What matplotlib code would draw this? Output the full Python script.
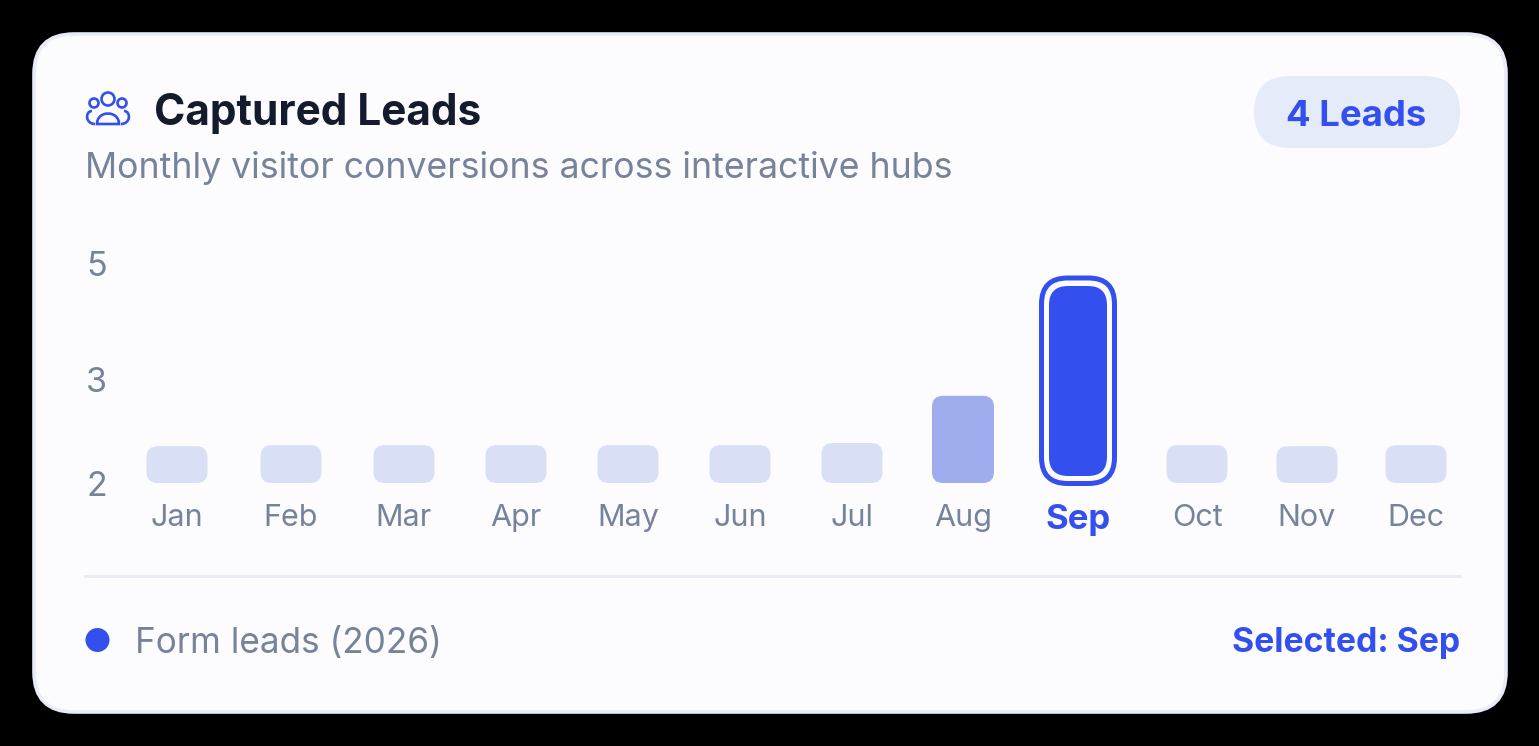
import matplotlib
matplotlib.use("Agg")
import matplotlib.pyplot as plt
import numpy as np
from matplotlib.patches import Circle, FancyBboxPatch, PathPatch
from matplotlib.path import Path

MONTHS = ["Jan", "Feb", "Mar", "Apr", "May", "Jun", "Jul", "Aug", "Sep", "Oct", "Nov", "Dec"]
LEADS = [2.36, 2.37, 2.37, 2.37, 2.37, 2.37, 2.39, 2.84, 4, 2.37, 2.36, 2.37]
Y_TICKS = [2, 3, 5]
SELECTED = "Sep"
PREVIOUS = "Aug"

# the month slots in the picture are not quite even, shift in px
NUDGE = [0, 1, 1, 0, -1, -2, -3, -5, -3, 3, 0, -4]

BLUE = "#3350ee"
LIGHT = "#d9e0f6"
MID = "#9fadee"
GRAY = "#76839b"
W, H = 1539, 746

plt.rcParams["font.family"] = ["Inter", "DejaVu Sans"]
fig = plt.figure(figsize=(W / 100, H / 100), dpi=100, facecolor="black")

# chrome layer, coordinates are reference pixels
bg = fig.add_axes([0, 0, 1, 1])
bg.set_xlim(0, W)
bg.set_ylim(H, 0)
bg.axis("off")


def rbox(x0, y0, x1, y1, r, **kw):
    p = FancyBboxPatch((x0, y0), x1 - x0, y1 - y0, boxstyle=f"round,pad=0,rounding_size={r}", **kw)
    bg.add_patch(p)
    return p


rbox(34, 34, 1506, 712, 40, fc="#fcfcfe", ec="#e8ecf8", lw=2.6)
rbox(1254, 76, 1460, 148, 36, fc="#e6ebfa", ec="none")
bg.plot([85, 1460], [576, 576], color="#e6ebf7", lw=2)

# people icon
icon = dict(fc="none", ec=BLUE, lw=1.9)
bg.add_patch(Circle((108, 99), 6.5, **icon))
bg.add_patch(Circle((94, 103), 4.5, **icon))
bg.add_patch(Circle((122, 103), 4.5, **icon))
body = Path([(97, 124), (97, 110), (119, 110), (119, 124), (97, 124)],
            [Path.MOVETO, Path.CURVE4, Path.CURVE4, Path.CURVE4, Path.CLOSEPOLY])
bg.add_patch(PathPatch(body, **icon))
left = Path([(95, 124), (85, 124), (85, 111), (92, 111)], [Path.MOVETO, Path.CURVE4, Path.CURVE4, Path.CURVE4])
right = Path([(121, 124), (131, 124), (131, 111), (124, 111)], [Path.MOVETO, Path.CURVE4, Path.CURVE4, Path.CURVE4])
bg.add_patch(PathPatch(left, **icon))
bg.add_patch(PathPatch(right, **icon))

bg.text(154, 113, "Captured Leads", fontsize=30.5, fontweight="bold", color="#141b2d", va="center")
bg.text(85, 168, "Monthly visitor conversions across interactive hubs", fontsize=25.7, color=GRAY, va="center")
bg.text(1356, 116, "4 Leads", fontsize=26.3, fontweight="bold", color=BLUE, va="center", ha="center")
bg.add_patch(Circle((97.5, 640), 12, fc=BLUE, ec="none"))
bg.text(135, 643, "Form leads (2026)", fontsize=25.3, color=GRAY, va="center")
bg.text(1460, 643, f"Selected: {SELECTED}", fontsize=24.3, fontweight="bold", color=BLUE, va="center", ha="right")

# data axes, y scale from the tick spacing in the picture (2, 3, 5 unevenly spaced)
ax = fig.add_axes([120 / W, 1 - 484 / H, (1460 - 120) / W, 220 / H])
ax.patch.set_alpha(0)
knots_v = [2, 3, 4, 5]
knots_p = [0, 105, 198, 220]
ax.set_yscale("function", functions=(lambda v: np.interp(v, knots_v, knots_p),
                                     lambda p: np.interp(p, knots_p, knots_v)))
ax.set_ylim(2, 5)
step = 113
ax.set_xlim(-(177 - 120) / step, (1460 - 177) / step)
xs = np.arange(len(MONTHS)) + np.array(NUDGE) / step
for s in ax.spines.values():
    s.set_visible(False)
ax.set_yticks(Y_TICKS)
ax.set_yticklabels([str(v) for v in Y_TICKS], fontsize=24.5, color=GRAY)
ax.yaxis.set_minor_locator(matplotlib.ticker.NullLocator())
ax.tick_params(axis="y", length=0, pad=9.5)
ax.set_xticks(xs)
ax.set_xticklabels(MONTHS, fontsize=22, color=GRAY)
ax.tick_params(axis="x", length=0, pad=14.5)
lab = ax.get_xticklabels()[MONTHS.index(SELECTED)]
lab.set_color(BLUE)
lab.set_fontweight("bold")
lab.set_fontsize(25)


def to_px(x, v):
    px, py = ax.transData.transform((x, v))
    return px, H - py


for m, x, v in zip(MONTHS, xs, LEADS):
    cx, top = to_px(x, v)
    _, base = to_px(x, 2)
    if m == SELECTED:
        rbox(cx - 29, top, cx + 29, base - 8, 19, fc=BLUE, ec="none", zorder=3)
        rbox(cx - 36.5, top - 8, cx + 36.5, base - 0.5, 26, fc="none", ec=BLUE, lw=3.6, zorder=3)
    elif m == PREVIOUS:
        rbox(cx - 31, top, cx + 31, base - 1, 11, fc=MID, ec="none", zorder=3)
    else:
        rbox(cx - 30.5, top, cx + 30.5, base - 1, 11, fc=LIGHT, ec="none", zorder=3)

fig.savefig("out.png", dpi=100, facecolor="black")
